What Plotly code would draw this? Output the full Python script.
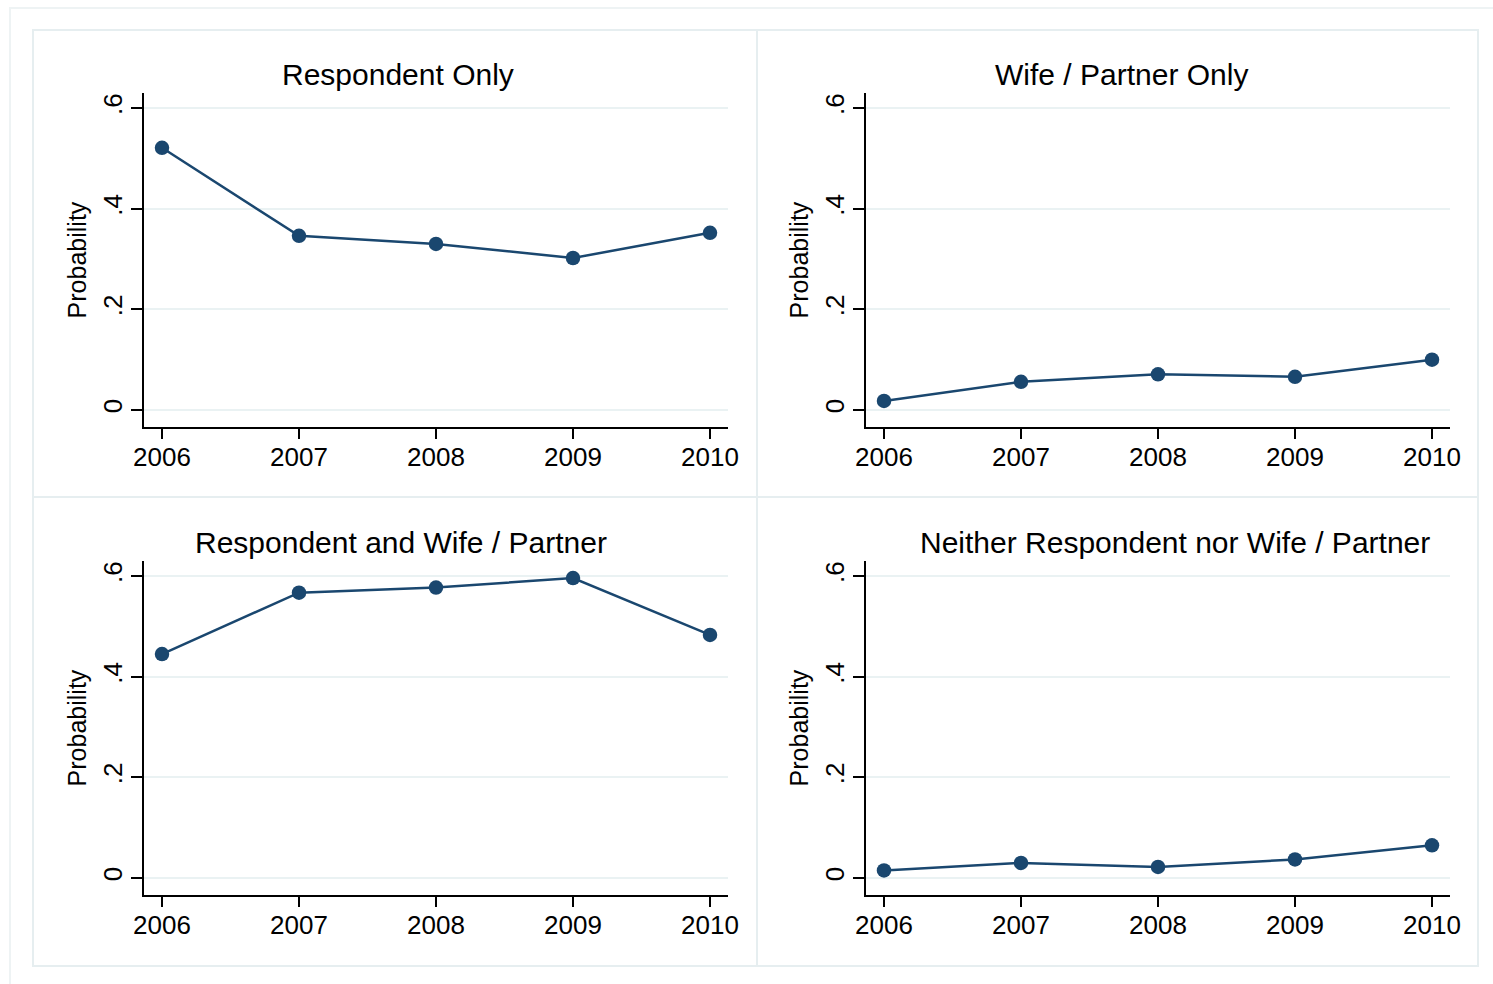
import plotly.graph_objects as go

years = [2006, 2007, 2008, 2009, 2010]
panel_titles = ["Respondent Only", "Wife / Partner Only",
                "Respondent and Wife / Partner", "Neither Respondent nor Wife / Partner"]
resp_only = [0.521, 0.346, 0.330, 0.302, 0.352]
wife_only = [0.018, 0.056, 0.071, 0.066, 0.100]
both = [0.445, 0.567, 0.577, 0.596, 0.483]
neither = [0.015, 0.030, 0.022, 0.037, 0.065]
y_ticks = [0, 0.2, 0.4, 0.6]
y_ticklabels = ["0", ".2", ".4", ".6"]
y_title = "Probability"

series = [resp_only, wife_only, both, neither]

W, H = 1493, 984
def px(x):
    return x / W
def py(y):
    return 1 - y / H

NAVY = "#1a476f"
GRID = "#eaf2f3"
FONT = "Liberation Sans, Arial, sans-serif"

fig = go.Figure()

# plot-area pixel boxes: (left, right, top, bottom)
boxes = [(144, 728, 93, 427), (866, 1450, 93, 427),
         (144, 728, 561, 895), (866, 1450, 561, 895)]
title_pos = [(398, 74), (1121, 74), (401, 542), (1175, 542)]

for i, (vals, box) in enumerate(zip(series, boxes)):
    n = i + 1
    xa = "x" if n == 1 else f"x{n}"
    ya = "y" if n == 1 else f"y{n}"
    fig.add_trace(go.Scatter(
        x=years, y=vals, mode="lines+markers",
        line=dict(color=NAVY, width=2.5),
        marker=dict(color=NAVY, size=14.5),
        xaxis=xa, yaxis=ya, showlegend=False, cliponaxis=False))
    l, r, t, b = box
    xkey = "xaxis" if n == 1 else f"xaxis{n}"
    ykey = "yaxis" if n == 1 else f"yaxis{n}"
    fig.update_layout(**{
        xkey: dict(domain=[px(l), px(r)], anchor=ya, automargin=False,
                   range=[2006 - 18 / 137, 2010 + 18 / 137],
                   tickmode="array", tickvals=years, ticktext=[str(y) for y in years],
                   ticks="outside", ticklen=10, tickwidth=1.5, tickcolor="black",
                   showline=True, linecolor="black", linewidth=1.5,
                   showgrid=False, zeroline=False,
                   ticklabelstandoff=-4,
                   tickfont=dict(family=FONT, size=26, color="black")),
        ykey: dict(domain=[py(b), py(t)], anchor=xa, automargin=False,
                   range=[-17 / 503.3, 317 / 503.3],
                   tickmode="array", tickvals=y_ticks, ticktext=y_ticklabels,
                   tickangle=-90,
                   ticks="outside", ticklen=11, tickwidth=1.5, tickcolor="black",
                   showline=True, linecolor="black", linewidth=1.5,
                   showgrid=True, gridcolor=GRID, gridwidth=2,
                   zeroline=False,
                   ticklabelstandoff=-1,
                   tickfont=dict(family=FONT, size=26, color="black"),
                   title=dict(text=y_title, standoff=4,
                              font=dict(family=FONT, size=25, color="black"))),
    })
    tx, ty = title_pos[i]
    fig.add_annotation(x=px(tx), y=py(ty), xref="paper", yref="paper",
                       text=panel_titles[i], showarrow=False,
                       xanchor="center", yanchor="middle",
                       font=dict(family=FONT, size=30, color="black"))

shapes = []
# outer border
shapes.append(dict(type="rect", xref="paper", yref="paper",
                   x0=px(10), x1=px(1500), y0=py(1000), y1=py(8),
                   line=dict(color="#eef3f4", width=2), layer="below"))
# panel borders
for (l, r, t, b) in [(33, 757, 30, 497), (757, 1478, 30, 497),
                     (33, 757, 497, 966), (757, 1478, 497, 966)]:
    shapes.append(dict(type="rect", xref="paper", yref="paper",
                       x0=px(l), x1=px(r), y0=py(b), y1=py(t),
                       line=dict(color="#e6eef0", width=2), layer="below"))
fig.update_layout(shapes=shapes)

fig.update_layout(template="none", width=W, height=H,
                  margin=dict(l=0, r=0, t=0, b=0, pad=0, autoexpand=False),
                  paper_bgcolor="white", plot_bgcolor="white",
                  font=dict(family=FONT, color="black"))

fig.write_html("out.html", config={"displayModeBar": False},
               post_script="document.body.style.margin='0';document.body.style.overflow='hidden';")
